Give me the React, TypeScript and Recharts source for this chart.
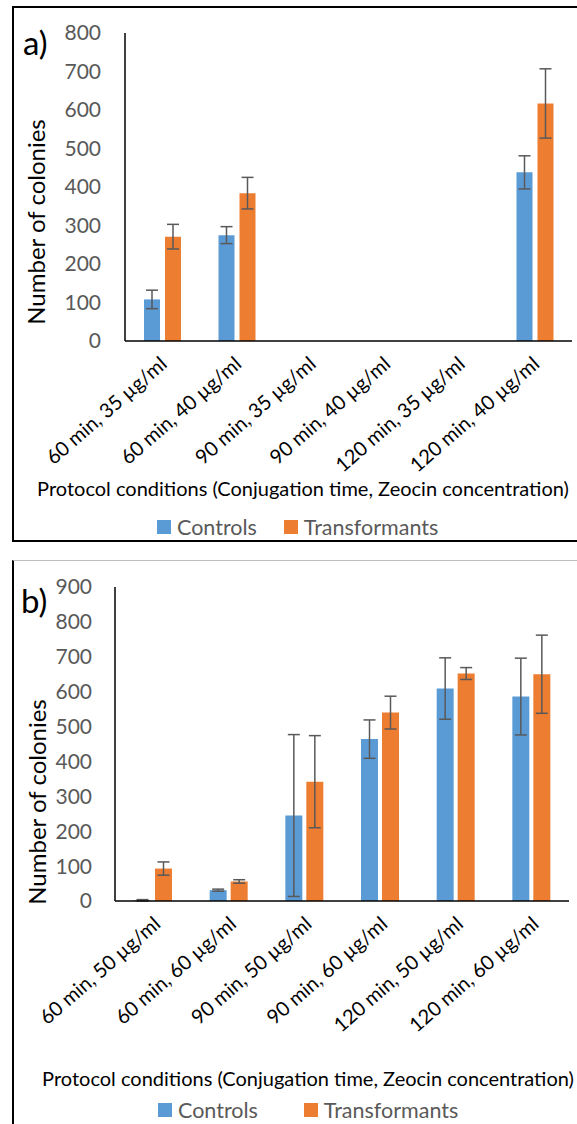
import { BarChart, Bar, XAxis, YAxis, ErrorBar, Legend } from "recharts";

const FONT = "Lato, 'Open Sans', sans-serif";
const BLUE = "#5B9BD5";
const ORANGE = "#ED7D31";
const GREY = "#595959";

// a) 35 / 40 µg/ml zeocin
const conditionsA = [
  "60 min, 35 µg/ml",
  "60 min, 40 µg/ml",
  "90 min, 35 µg/ml",
  "90 min, 40 µg/ml",
  "120 min, 35 µg/ml",
  "120 min, 40 µg/ml",
];
const controlsA = [108, 275, 0, 0, 0, 438];
const controlsErrA = [24, 22, 0, 0, 0, 43];
const transformantsA = [271, 384, 0, 0, 0, 617];
const transformantsErrA = [32, 41, 0, 0, 0, 90];
const yTicksA = [0, 100, 200, 300, 400, 500, 600, 700, 800];

// b) 50 / 60 µg/ml zeocin
const conditionsB = [
  "60 min, 50 µg/ml",
  "60 min, 60 µg/ml",
  "90 min, 50 µg/ml",
  "90 min, 60 µg/ml",
  "120 min, 50 µg/ml",
  "120 min, 60 µg/ml",
];
const controlsB = [2, 31, 245, 464, 609, 586];
const controlsErrB = [2, 3, 232, 55, 88, 110];
const transformantsB = [93, 56, 342, 540, 652, 650];
const transformantsErrB = [19, 5, 132, 47, 17, 112];
const yTicksB = [0, 100, 200, 300, 400, 500, 600, 700, 800, 900];

const X_TITLE = "Protocol conditions (Conjugation time, Zeocin concentration)";

function buildRows(
  conds: string[],
  ctrl: number[],
  ctrlErr: number[],
  trans: number[],
  transErr: number[]
) {
  return conds.map((c, i) => ({
    cond: c,
    controls: ctrl[i],
    controlsErr: ctrlErr[i],
    transformants: trans[i],
    transformantsErr: transErr[i],
  }));
}

const rowsA = buildRows(conditionsA, controlsA, controlsErrA, transformantsA, transformantsErrA);
const rowsB = buildRows(conditionsB, controlsB, controlsErrB, transformantsB, transformantsErrB);

const AngledTick = (props: any) => {
  const { x, y, payload, shift } = props;
  const tx = x + 6 + (shift || 0);
  const ty = y + 25;
  return (
    <text
      x={tx}
      y={ty}
      transform={`rotate(-41 ${tx} ${ty})`}
      textAnchor="end"
      fontSize={20}
      fontFamily={FONT}
      fill="#000"
    >
      {payload.value}
    </text>
  );
};

type PanelProps = {
  tag: string;
  rows: any[];
  yTicks: number[];
  height: number;
  marginTop: number;
  marginRight: number;
  axisWidth: number;
  tickMargin: number;
  barSize: number;
  barGap: number;
  tickShift: number;
  tagPos: [number, number];
  yLabelPos: [number, number];
  titlePos: [number, number];
  legendLeft: number;
  legendTop: number;
  legendGap: number;
};

function Panel(p: PanelProps) {
  const yMax = p.yTicks[p.yTicks.length - 1];
  const plotBottom = 341;
  const axisLine = { stroke: "#000", strokeWidth: 1.5 };

  const yLabel = () => (
    <g>
      <text
        x={p.tagPos[0]}
        y={p.tagPos[1]}
        fontSize={33}
        fontFamily={FONT}
        fill="#000"
      >
        {p.tag}
      </text>
      <text
        x={p.yLabelPos[0]}
        y={p.yLabelPos[1]}
        transform={`rotate(-90 ${p.yLabelPos[0]} ${p.yLabelPos[1]})`}
        textAnchor="middle"
        dominantBaseline="central"
        fontSize={24}
        fontFamily={FONT}
        fill="#000"
      >
        Number of colonies
      </text>
    </g>
  );

  const xTitle = () => (
    <text
      x={p.titlePos[0]}
      y={p.titlePos[1]}
      textAnchor="middle"
      dominantBaseline="central"
      fontSize={20}
      fontFamily={FONT}
      fill="#000"
    >
      {X_TITLE}
    </text>
  );

  const legendContent = (lp: any) => (
    <div
      style={{
        display: "flex",
        alignItems: "center",
        fontFamily: FONT,
        fontSize: 21.5,
        color: GREY,
        lineHeight: "26px",
      }}
    >
      {(lp.payload || []).map((item: any, i: number) => (
        <div
          key={item.value}
          style={{
            display: "flex",
            alignItems: "center",
            marginRight: i === 0 ? p.legendGap : 0,
          }}
        >
          <span
            style={{
              width: 14,
              height: 14,
              background: item.color,
              display: "inline-block",
              marginRight: 6,
            }}
          />
          <span>{item.value}</span>
        </div>
      ))}
    </div>
  );

  return (
    <BarChart
      width={577}
      height={p.height}
      data={p.rows}
      margin={{ top: p.marginTop, right: p.marginRight, left: 0, bottom: 0 }}
      barSize={p.barSize}
      barGap={p.barGap}
    >
      <XAxis
        dataKey="cond"
        height={p.height - plotBottom}
        interval={0}
        tickLine={false}
        tickSize={0}
        tickMargin={0}
        tick={<AngledTick shift={p.tickShift} />}
        axisLine={axisLine}
        label={xTitle}
      />
      <XAxis
        xAxisId="top"
        dataKey="cond"
        orientation="top"
        height={0}
        tick={false}
        tickLine={false}
        axisLine={axisLine}
      />
      <YAxis
        domain={[0, yMax]}
        ticks={p.yTicks}
        interval={0}
        width={p.axisWidth}
        tickLine={false}
        tickSize={0}
        tickMargin={p.tickMargin}
        tick={{ fill: GREY, fontSize: 21, fontFamily: FONT }}
        axisLine={axisLine}
        label={yLabel}
      />
      <YAxis
        yAxisId="right"
        orientation="right"
        domain={[0, yMax]}
        width={0}
        tick={false}
        tickLine={false}
        axisLine={axisLine}
      />
      <Legend
        verticalAlign="middle"
        align="center"
        layout="horizontal"
        wrapperStyle={{ left: p.legendLeft, top: p.legendTop, width: 420 }}
        content={legendContent}
      />
      <Bar dataKey="controls" name="Controls" fill={BLUE} isAnimationActive={false}>
        <ErrorBar
          dataKey="controlsErr"
          width={6}
          stroke={GREY}
          strokeWidth={1.5}
          isAnimationActive={false}
        />
      </Bar>
      <Bar
        dataKey="transformants"
        name="Transformants"
        fill={ORANGE}
        isAnimationActive={false}
      >
        <ErrorBar
          dataKey="transformantsErr"
          width={6}
          stroke={GREY}
          strokeWidth={1.5}
          isAnimationActive={false}
        />
      </Bar>
    </BarChart>
  );
}

export default function App() {
  return (
    <div
      style={{
        position: "absolute",
        left: 0,
        top: 0,
        width: 577,
        height: 1124,
        overflow: "hidden",
        background: "#fff",
      }}
    >
      {/* frame of panel a */}
      <div
        style={{
          position: "absolute",
          left: 12,
          top: 6,
          width: 580,
          height: 536,
          border: "2px solid #000",
          boxSizing: "border-box",
        }}
      />
      {/* frame of panel b */}
      <div
        style={{
          position: "absolute",
          left: 12,
          top: 560,
          width: 580,
          height: 600,
          borderTop: "1px solid #bfbfbf",
          borderLeft: "2px solid #000",
          boxSizing: "border-box",
        }}
      />
      <div style={{ position: "absolute", left: 0, top: 0 }}>
        <Panel
          tag="a)"
          rows={rowsA}
          yTicks={yTicksA}
          height={545}
          marginTop={33}
          marginRight={5}
          axisWidth={125}
          tickMargin={24}
          barSize={16}
          barGap={5}
          tickShift={0}
          tagPos={[23, 55]}
          yLabelPos={[35, 222]}
          titlePos={[303, 488]}
          legendLeft={157}
          legendTop={514}
          legendGap={27}
        />
      </div>
      <div style={{ position: "absolute", left: 0, top: 560 }}>
        <Panel
          tag="b)"
          rows={rowsB}
          yTicks={yTicksB}
          height={564}
          marginTop={27}
          marginRight={8}
          axisWidth={115}
          tickMargin={23}
          barSize={17}
          barGap={4}
          tickShift={3}
          tagPos={[21, 53]}
          yLabelPos={[36, 242]}
          titlePos={[308, 518]}
          legendLeft={158}
          legendTop={537}
          legendGap={46}
        />
      </div>
    </div>
  );
}
